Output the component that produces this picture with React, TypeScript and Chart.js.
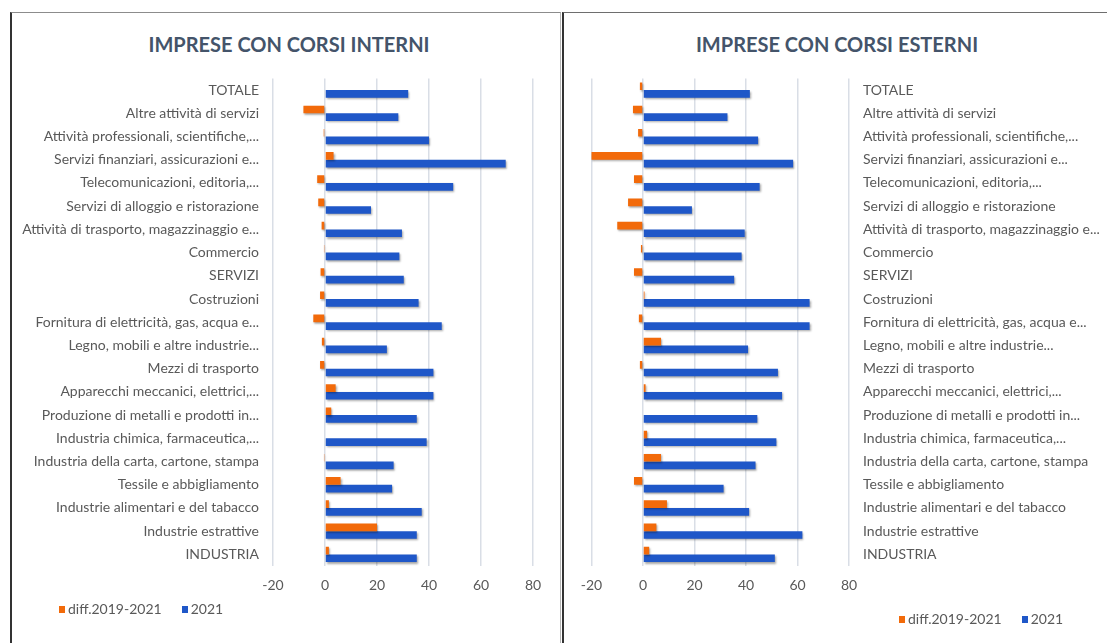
import React, { useEffect, useRef } from "react";
import { Chart, registerables } from "chart.js";

Chart.register(...registerables);

const categories = [
  "TOTALE",
  "Altre attività di servizi",
  "Attività professionali, scientifiche,...",
  "Servizi finanziari, assicurazioni e...",
  "Telecomunicazioni, editoria,...",
  "Servizi di alloggio e ristorazione",
  "Attività di trasporto, magazzinaggio e...",
  "Commercio",
  "SERVIZI",
  "Costruzioni",
  "Fornitura di elettricità, gas, acqua e...",
  "Legno, mobili e altre industrie...",
  "Mezzi di trasporto",
  "Apparecchi meccanici, elettrici,...",
  "Produzione di metalli e prodotti in...",
  "Industria chimica, farmaceutica,...",
  "Industria della carta, cartone, stampa",
  "Tessile e abbigliamento",
  "Industrie alimentari e del tabacco",
  "Industrie estrattive",
  "INDUSTRIA",
];

const interniDiff = [0, -8.3, -0.5, 3.3, -3, -2.6, -1.3, -0.4, -1.7, -1.9, -4.5, -1.2, -1.9, 4.1, 2.4, 0, -0.4, 6, 1.5, 20, 1.5];
const interni2021 = [32, 28.2, 40, 69.5, 49.3, 17.7, 29.6, 28.6, 30.3, 36, 44.9, 23.8, 41.7, 41.7, 35.3, 39.1, 26.4, 25.8, 37.2, 35.3, 35.3];

const esterniDiff = [-1.2, -3.9, -1.9, -20.2, -3.5, -5.8, -10, -0.8, -3.5, 0.6, -1.6, 7, -1.2, 1, 0, 1.6, 7, -3.5, 9.3, 5.2, 2.4];
const esterni2021 = [41.5, 32.8, 44.7, 58.3, 45.3, 19, 39.5, 38.3, 35.4, 64.7, 64.7, 40.8, 52.4, 54, 44.4, 51.8, 43.7, 31.3, 41.2, 61.9, 51.2];

const xTicks = [-20, 0, 20, 40, 60, 80];
const seriesNames = ["diff.2019-2021", "2021"];
const titles = ["IMPRESE CON CORSI INTERNI", "IMPRESE CON CORSI ESTERNI"];

const ORANGE = "#F26A0A";
const BLUE = "#1F57C8";
const TEXT = "#595959";
const FONT = "Lato";

const shadowPlugin = {
  id: "barShadow",
  beforeDatasetsDraw(c: any) {
    const ctx = c.ctx;
    ctx.save();
    ctx.shadowColor = "rgba(0,0,0,0.35)";
    ctx.shadowBlur = 2;
    ctx.shadowOffsetX = 1;
    ctx.shadowOffsetY = 1.5;
  },
  afterDatasetsDraw(c: any) {
    c.ctx.restore();
  },
};

function BarPanel(props: {
  diff: number[];
  vals: number[];
  side: "left" | "right";
  left: number;
  width: number;
}) {
  const ref = useRef<HTMLCanvasElement | null>(null);
  useEffect(() => {
    const side = props.side;
    const chart = new Chart(ref.current as HTMLCanvasElement, {
      type: "bar",
      data: {
        labels: categories,
        datasets: [
          {
            label: seriesNames[0],
            data: props.diff,
            backgroundColor: ORANGE,
            borderWidth: 0,
            categoryPercentage: 0.66,
            barPercentage: 1,
          },
          {
            label: seriesNames[1],
            data: props.vals,
            backgroundColor: BLUE,
            borderWidth: 0,
            categoryPercentage: 0.66,
            barPercentage: 1,
          },
        ],
      },
      options: {
        indexAxis: "y",
        responsive: false,
        animation: false,
        layout: {
          padding:
            side === "left"
              ? { left: 0, right: 25, top: 64.5, bottom: 0 }
              : { left: 27.5, right: 0, top: 64.5, bottom: 0 },
        },
        plugins: {
          legend: { display: false },
          title: { display: false },
          tooltip: { enabled: false },
        },
        scales: {
          x: {
            type: "linear",
            min: xTicks[0],
            max: xTicks[xTicks.length - 1],
            afterBuildTicks: (s: any) => {
              s.ticks = xTicks.map((v) => ({ value: v }));
            },
            ticks: {
              color: TEXT,
              font: { family: FONT, size: 14 },
              padding: 11,
            },
            grid: { color: "#D9DEE6", lineWidth: 1.5, drawTicks: false },
            border: { display: false },
            afterFit: (s: any) => {
              s.height = 77;
            },
          },
          y: {
            position: side,
            ticks: {
              color: TEXT,
              font: { family: FONT, size: 14 },
              padding: 14,
              autoSkip: false,
            },
            grid: { display: false, drawTicks: false },
            border: { display: false },
            afterFit: (s: any) => {
              s.width = side === "left" ? 261 : 258;
            },
          },
        },
      } as any,
      plugins: [shadowPlugin],
    });
    return () => chart.destroy();
  }, []);
  return (
    <canvas
      ref={ref}
      width={props.width}
      height={629}
      style={{ position: "absolute", left: props.left, top: 14, display: "block" }}
    />
  );
}

function Legend(props: { left: number; top: number }) {
  const item = (color: string, label: string) => (
    <div style={{ display: "flex", alignItems: "center", marginRight: 20 }}>
      <span style={{ display: "inline-block", width: 6, height: 7, background: color, marginRight: 3 }} />
      <span>{label}</span>
    </div>
  );
  return (
    <div
      style={{
        position: "absolute",
        left: props.left,
        top: props.top,
        display: "flex",
        alignItems: "center",
        fontFamily: FONT,
        fontSize: 14,
        color: TEXT,
        lineHeight: "16px",
        whiteSpace: "nowrap",
      }}
    >
      {item(ORANGE, seriesNames[0])}
      {item(BLUE, seriesNames[1])}
    </div>
  );
}

function Title(props: { text: string; center: number }) {
  return (
    <div
      style={{
        position: "absolute",
        left: props.center - 250,
        width: 500,
        top: 32,
        textAlign: "center",
        fontFamily: FONT,
        fontWeight: 700,
        fontSize: 20,
        lineHeight: "24px",
        color: "#44546A",
        whiteSpace: "nowrap",
      }}
    >
      {props.text}
    </div>
  );
}

export default function App() {
  return (
    <div
      style={{
        position: "absolute",
        left: 0,
        top: 0,
        width: 1107,
        height: 643,
        overflow: "hidden",
        background: "#ffffff",
      }}
    >
      <div
        style={{
          position: "absolute",
          left: 10,
          top: 12,
          width: 551,
          height: 640,
          boxSizing: "border-box",
          borderLeft: "2px solid #333333",
          borderTop: "1.5px solid #8c8c8c",
          borderRight: "1.5px solid #b5b5b5",
        }}
      />
      <div
        style={{
          position: "absolute",
          left: 562,
          top: 12,
          width: 560,
          height: 640,
          boxSizing: "border-box",
          borderLeft: "2px solid #333333",
          borderTop: "1px solid #6e6e6e",
        }}
      />
      <Title text={titles[0]} center={289} />
      <Title text={titles[1]} center={837} />
      <BarPanel diff={interniDiff} vals={interni2021} side="left" left={12} width={546} />
      <BarPanel diff={esterniDiff} vals={esterni2021} side="right" left={564} width={543} />
      <Legend left={59} top={601} />
      <Legend left={899} top={611} />
    </div>
  );
}
